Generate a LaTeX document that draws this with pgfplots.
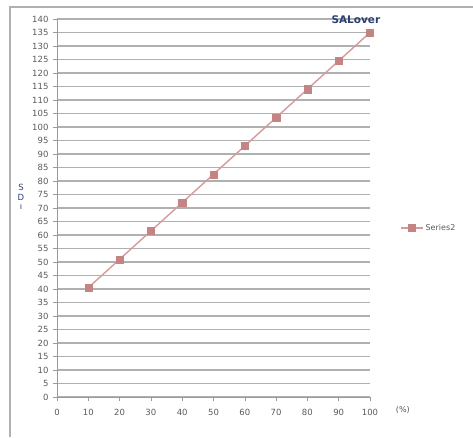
\documentclass[border=0pt]{standalone}
\usepackage{pgfplots}
\pgfplotsset{compat=1.18}
\usepackage{fontspec}
\setmainfont{DejaVu Sans}
\definecolor{gridgray}{HTML}{B0B0B0}
\definecolor{axgray}{HTML}{9A9A9A}
\definecolor{txtgray}{HTML}{5A5A5A}
\definecolor{serline}{HTML}{D49A9A}
\definecolor{sermark}{HTML}{C48484}
\definecolor{titleblue}{HTML}{2B3F73}
\begin{document}
\begin{tikzpicture}[x=1pt,y=1pt]
\useasboundingbox (0,0) rectangle (473,437);
% chart frame
\draw[color=gridgray, line width=1.2pt] (10,0) -- (10,430) -- (473,430);
\begin{axis}[
  at={(57pt,40pt)}, anchor=south west,
  scale only axis, width=313pt, height=378pt,
  xmin=0, xmax=100, ymin=0, ymax=140,
  xtick={0,10,...,100}, ytick={0,5,...,140},
  axis lines*=left,
  axis line style={color=axgray, line width=0.8pt},
  tick style={color=axgray, line width=0.6pt},
  tick align=outside, major tick length=4pt,
  ymajorgrids, grid style={color=gridgray, line width=1.2pt},
  ticklabel style={font=\fontsize{8.5}{9}\selectfont, color=txtgray},
  /pgf/number format/assume math mode=true,
  xticklabel style={yshift=-5pt},
  yticklabel style={xshift=-1pt},
  xlabel={(\%)}, xlabel style={at={(axis description cs:1.105,-0.034)}, anchor=center, font=\fontsize{8}{9}\selectfont, color=txtgray},
  ylabel={S\\D\\ı}, ylabel style={at={(axis description cs:-0.115,0.529)}, anchor=center, rotate=-90, align=center, font=\fontsize{8.5}{9.5}\selectfont, color=titleblue},
  legend style={at={(axis description cs:1.096,0.447)}, anchor=west, draw=none, fill=none, font=\fontsize{8}{9}\selectfont, text=txtgray, inner sep=0pt},
  legend image code/.code={\draw[mark repeat=2, mark phase=2] plot coordinates {(0pt,0pt) (11pt,0pt) (22pt,0pt)};},
  clip=false,
]
\addplot[color=serline, line width=1.4pt, mark=square*, mark size=3.6pt, mark options={fill=sermark, draw=sermark, line width=0.3pt}]
  coordinates {(10,40.5) (20,51) (30,61.5) (40,72) (50,82.5) (60,93) (70,103.5) (80,114) (90,124.5) (100,135)};
\addlegendentry{Series2}
\node[font=\bfseries\fontsize{10.5}{11}\selectfont, color=titleblue, inner sep=0pt] at (axis cs:95.5,139.6) {SALover};
\end{axis}
\end{tikzpicture}
\end{document}
